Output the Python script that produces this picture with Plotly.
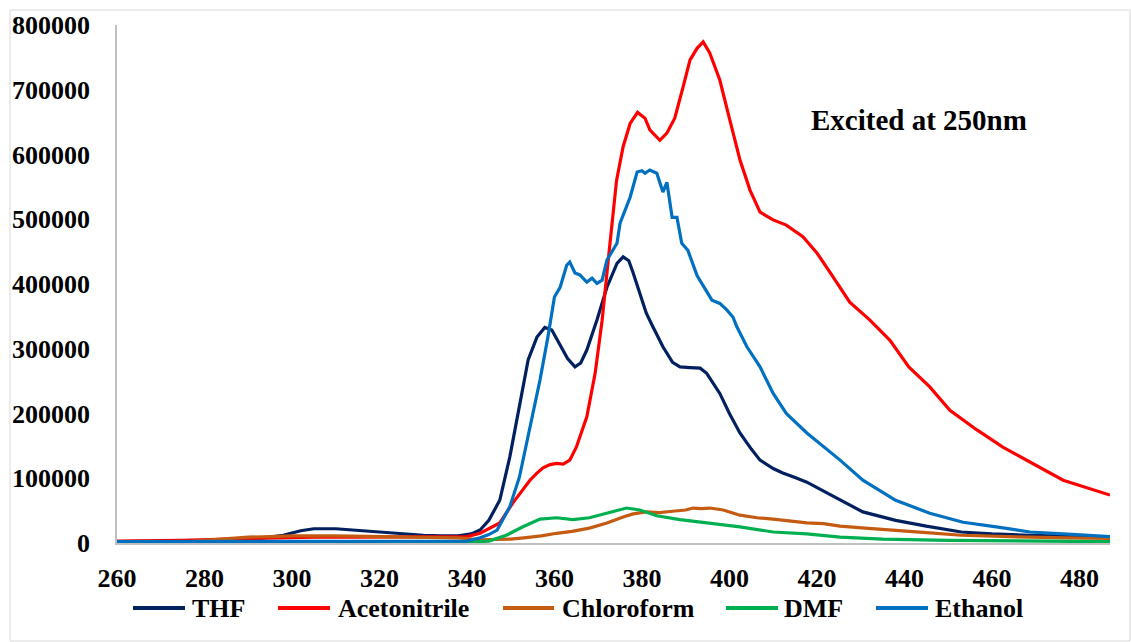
import plotly.graph_objects as go

# Emission spectra (intensity, a.u.) of the compound in five solvents
thf_nm = [260, 270, 280, 290, 298, 302, 305, 310, 314, 318, 322, 326, 330, 334, 338, 341, 343, 345,
          347.5, 349.8, 352, 354, 356, 357.8, 359.4, 361.3, 363, 364.7, 366, 367.4, 369.7, 372, 374.3,
          375.7, 377, 378, 381, 382.5, 384.8, 387, 388.7, 391, 393.3, 394.8, 397.8, 400, 402.4, 405,
          407, 410, 412.2, 415, 417.7, 421, 425.3, 430.5, 438, 445, 453, 460, 468.7, 478, 487]
thf_int = [2000, 2500, 3000, 5000, 12000, 19000, 22000, 22000, 20000, 17000, 15000, 14000, 12000, 11000,
           11000, 14000, 20000, 35000, 66000, 133000, 210000, 283000, 318000, 333000, 329000, 306000,
           285000, 272000, 278000, 298000, 344000, 395000, 432000, 442000, 436000, 417000, 355000,
           334000, 303000, 279000, 272000, 271000, 270000, 262000, 231000, 200000, 170000, 145000,
           128000, 115000, 108000, 101000, 94000, 82000, 66000, 48000, 35000, 26000, 17000, 14000,
           12000, 10000, 9000]

acn_nm = [260, 275, 285, 295, 305, 315, 325, 335, 340, 343, 345, 347.5, 350.5, 352.5, 354.4, 356, 357.4,
          359, 360.5, 362, 363.5, 365, 367.4, 369.3, 370.9, 372.3, 373.2, 374.2, 375.7, 377.3, 379,
          380.7, 381.8, 383, 384.1, 385.7, 387.5, 389.4, 391, 392.6, 394, 395.5, 397.8, 400.1, 402.4,
          404.7, 407, 410, 413, 416.8, 420, 423, 427.5, 432, 436.7, 441, 445.8, 450.4, 456.5, 462.5,
          468.7, 476.3, 487]
acn_int = [3000, 4000, 6000, 8000, 9000, 9000, 9000, 9000, 10000, 15000, 22000, 31000, 62000, 80000,
           97000, 108000, 116000, 121000, 123000, 122000, 128000, 148000, 195000, 262000, 344000,
           437000, 500000, 560000, 612000, 648000, 665000, 656000, 638000, 630000, 622000, 633000,
           656000, 704000, 746000, 764000, 774000, 757000, 715000, 653000, 592000, 545000, 511000,
           499000, 491000, 473000, 448000, 418000, 372000, 345000, 313000, 272000, 241000, 205000,
           175000, 148000, 125000, 97000, 74000]

chl_nm = [260, 275, 280, 285, 290, 295, 300, 310, 320, 330, 338, 343, 346, 350, 353, 357, 360.5, 364,
          368, 372, 375.7, 378, 381, 384, 387, 390, 391.7, 393.5, 395.5, 398.6, 402.4, 406.3, 410,
          413.8, 417.7, 421.5, 425.3, 431, 438, 445, 453, 461, 468.7, 477, 487]
chl_int = [1000, 1500, 4000, 7000, 9000, 10000, 11000, 11000, 10000, 9000, 8000, 5000, 5000, 6000,
           8000, 11000, 15000, 18000, 23000, 31000, 40000, 45000, 48000, 47000, 49000, 51000, 54000,
           53000, 54000, 51000, 43000, 39000, 37000, 34000, 31000, 30000, 26000, 23000, 20000, 16000,
           12000, 10000, 9000, 8000, 7000]

dmf_nm = [260, 300, 340, 345, 349, 352.8, 356.7, 360.5, 364.2, 368, 372, 376.5, 379.5, 383.4, 388.7,
          394.8, 402.4, 410, 417.7, 425.3, 435, 450, 470, 487]
dmf_int = [1000, 1000, 1000, 3000, 12000, 25000, 37000, 39000, 36000, 39000, 46000, 54000, 51000,
           42000, 36000, 31000, 25000, 17000, 14000, 9000, 6000, 4000, 3000, 2000]

eth_nm = [260, 280, 300, 320, 340, 343, 345, 346.9, 349.8, 352, 354.4, 356.7, 358.5, 360, 361.3, 362.8,
          363.5, 364.7, 365.8, 367.4, 368.6, 369.7, 370.9, 372, 374.3, 375, 377.3, 378.9, 380, 380.7,
          381.8, 383.4, 384.8, 385.7, 386.9, 388, 389.1, 390.5, 392.6, 393.7, 395, 396, 397.8, 399.4,
          400.8, 401.7, 404, 407, 410, 413, 417.7, 422.3, 425.3, 430.5, 438, 445.8, 453.4, 461, 468.7,
          476.3, 487]
eth_int = [2000, 2000, 2000, 2000, 3000, 8000, 13000, 20000, 56000, 102000, 179000, 252000, 318000,
           380000, 395000, 429000, 434000, 417000, 414000, 403000, 409000, 401000, 406000, 437000,
           463000, 494000, 534000, 573000, 575000, 571000, 576000, 571000, 542000, 557000, 503000,
           503000, 463000, 452000, 413000, 401000, 388000, 375000, 370000, 360000, 349000, 334000,
           303000, 272000, 231000, 200000, 170000, 144000, 128000, 97000, 66000, 46000, 32000, 25000,
           17000, 14000, 10000]

solvents = ["THF", "Acetonitrile", "Chloroform", "DMF", "Ethanol"]
colors = ["#002060", "#FF0000", "#C55A11", "#00B050", "#0070C0"]
series = [(thf_nm, thf_int), (acn_nm, acn_int), (chl_nm, chl_int), (dmf_nm, dmf_int), (eth_nm, eth_int)]

x_ticks = list(range(260, 481, 20))
y_ticks = list(range(0, 800001, 100000))

FONT = "Liberation Serif, Times New Roman, serif"

fig = go.Figure()
for name, color, (xs, ys) in zip(solvents, colors, series):
    fig.add_trace(go.Scatter(x=xs, y=ys, mode="lines", name=name,
                             line=dict(color=color, width=3.2), showlegend=False))

# Plot area in pixels: left 117, right 1110, top 25, bottom 543
W, H = 1131, 642
L, R, T, B = 117, 1110, 25, 543


def px(xp):
    return (xp - L) / (R - L)


def py(yp):
    return (B - yp) / (B - T)


shapes = []
annotations = []

# Legend row below the axis
legend_pos = [(133, 185, 190), (278, 330, 336), (503, 554, 560), (726, 778, 782), (876, 928, 933)]
ly = 608
for name, color, (x0, x1, xt) in zip(solvents, colors, legend_pos):
    shapes.append(dict(type="line", xref="paper", yref="paper", x0=px(x0), x1=px(x1),
                       y0=py(ly), y1=py(ly), line=dict(color=color, width=4)))
    annotations.append(dict(xref="paper", yref="paper", x=px(xt), y=py(ly), xanchor="left",
                            yanchor="middle", text=name, showarrow=False,
                            font=dict(family=FONT, size=26, color="black", weight="bold")))

# Chart frame
shapes.append(dict(type="rect", xref="paper", yref="paper", x0=px(10), x1=px(1130),
                   y0=py(641), y1=py(10), line=dict(color="#D9D9D9", width=1), layer="below"))

annotations.append(dict(xref="paper", yref="paper", x=px(919), y=py(120), text="Excited at 250nm",
                        showarrow=False, xanchor="center", yanchor="middle",
                        font=dict(family=FONT, size=29, color="black", weight="bold")))

fig.update_layout(
    width=W, height=H,
    margin=dict(l=L, r=W - R, t=T, b=H - B, pad=0),
    paper_bgcolor="white", plot_bgcolor="white",
    shapes=shapes, annotations=annotations,
    xaxis=dict(range=[260, 487], tickvals=x_ticks, showgrid=False, zeroline=False,
               showline=True, linecolor="#BFBFBF", linewidth=2, ticks="",
               ticklabelstandoff=11,
               tickfont=dict(family=FONT, size=26, color="black", weight="bold")),
    yaxis=dict(range=[0, 800000], tickvals=y_ticks, tickformat="d", showgrid=False, zeroline=False,
               showline=True, linecolor="#BFBFBF", linewidth=1.5, ticks="",
               ticklabelstandoff=20,
               tickfont=dict(family=FONT, size=26, color="black", weight="bold")),
)

fig.write_html("out.html")
